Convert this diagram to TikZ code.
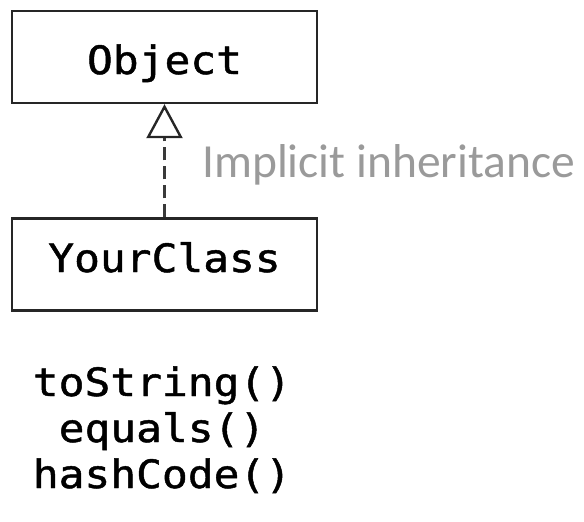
\documentclass[tikz,border=0pt]{standalone}
\usepackage{fontspec}
\usetikzlibrary{arrows.meta}
\newfontfamily\codefont[FakeStretch=1.1, FakeBold=1.2]{DejaVu Sans Mono}
\newfontfamily\notefont{Carlito}
\definecolor{notegray}{HTML}{9A9A9A}
\definecolor{linkgray}{HTML}{3A3A3A}
\tikzset{
  classbox/.style={draw=black!85, line width=2.4pt, rectangle, inner sep=0pt,
    minimum width=305pt, minimum height=92pt, font=\codefont\fontsize{39}{46}\selectfont},
  method/.style={anchor=base, inner sep=0pt, font=\codefont\fontsize{39}{46}\selectfont},
  implicit/.style={draw=linkgray, line width=2.2pt, dash pattern=on 13pt off 6pt,
    -{Triangle[open, length=34pt, width=36pt, line width=2.4pt, color=black!85]}},
}
\begin{document}
\begin{tikzpicture}[x=1pt, y=-1pt]
  \useasboundingbox (0,0) rectangle (584,522);
  % the two classes
  \node[classbox, text height=34pt, text depth=0pt] (obj) at (164.5,57) {Object};
  \node[classbox, text height=15pt, text depth=0pt] (yc) at (164.5,264.5) {YourClass};
  % inheritance link
  \draw[implicit] (yc.north) -- (obj.south);
  \node[anchor=base west, inner sep=0pt, text=notegray,
        font=\notefont\fontsize{47.5}{50}\selectfont] (note) at (202,177) {Implicit inheritance};
  % inherited methods
  \node[method] (m1) at (162,396) {toString()};
  \node[method] (m2) at (162,442) {equals()};
  \node[method] (m3) at (162,488) {hashCode()};
\end{tikzpicture}
\end{document}
